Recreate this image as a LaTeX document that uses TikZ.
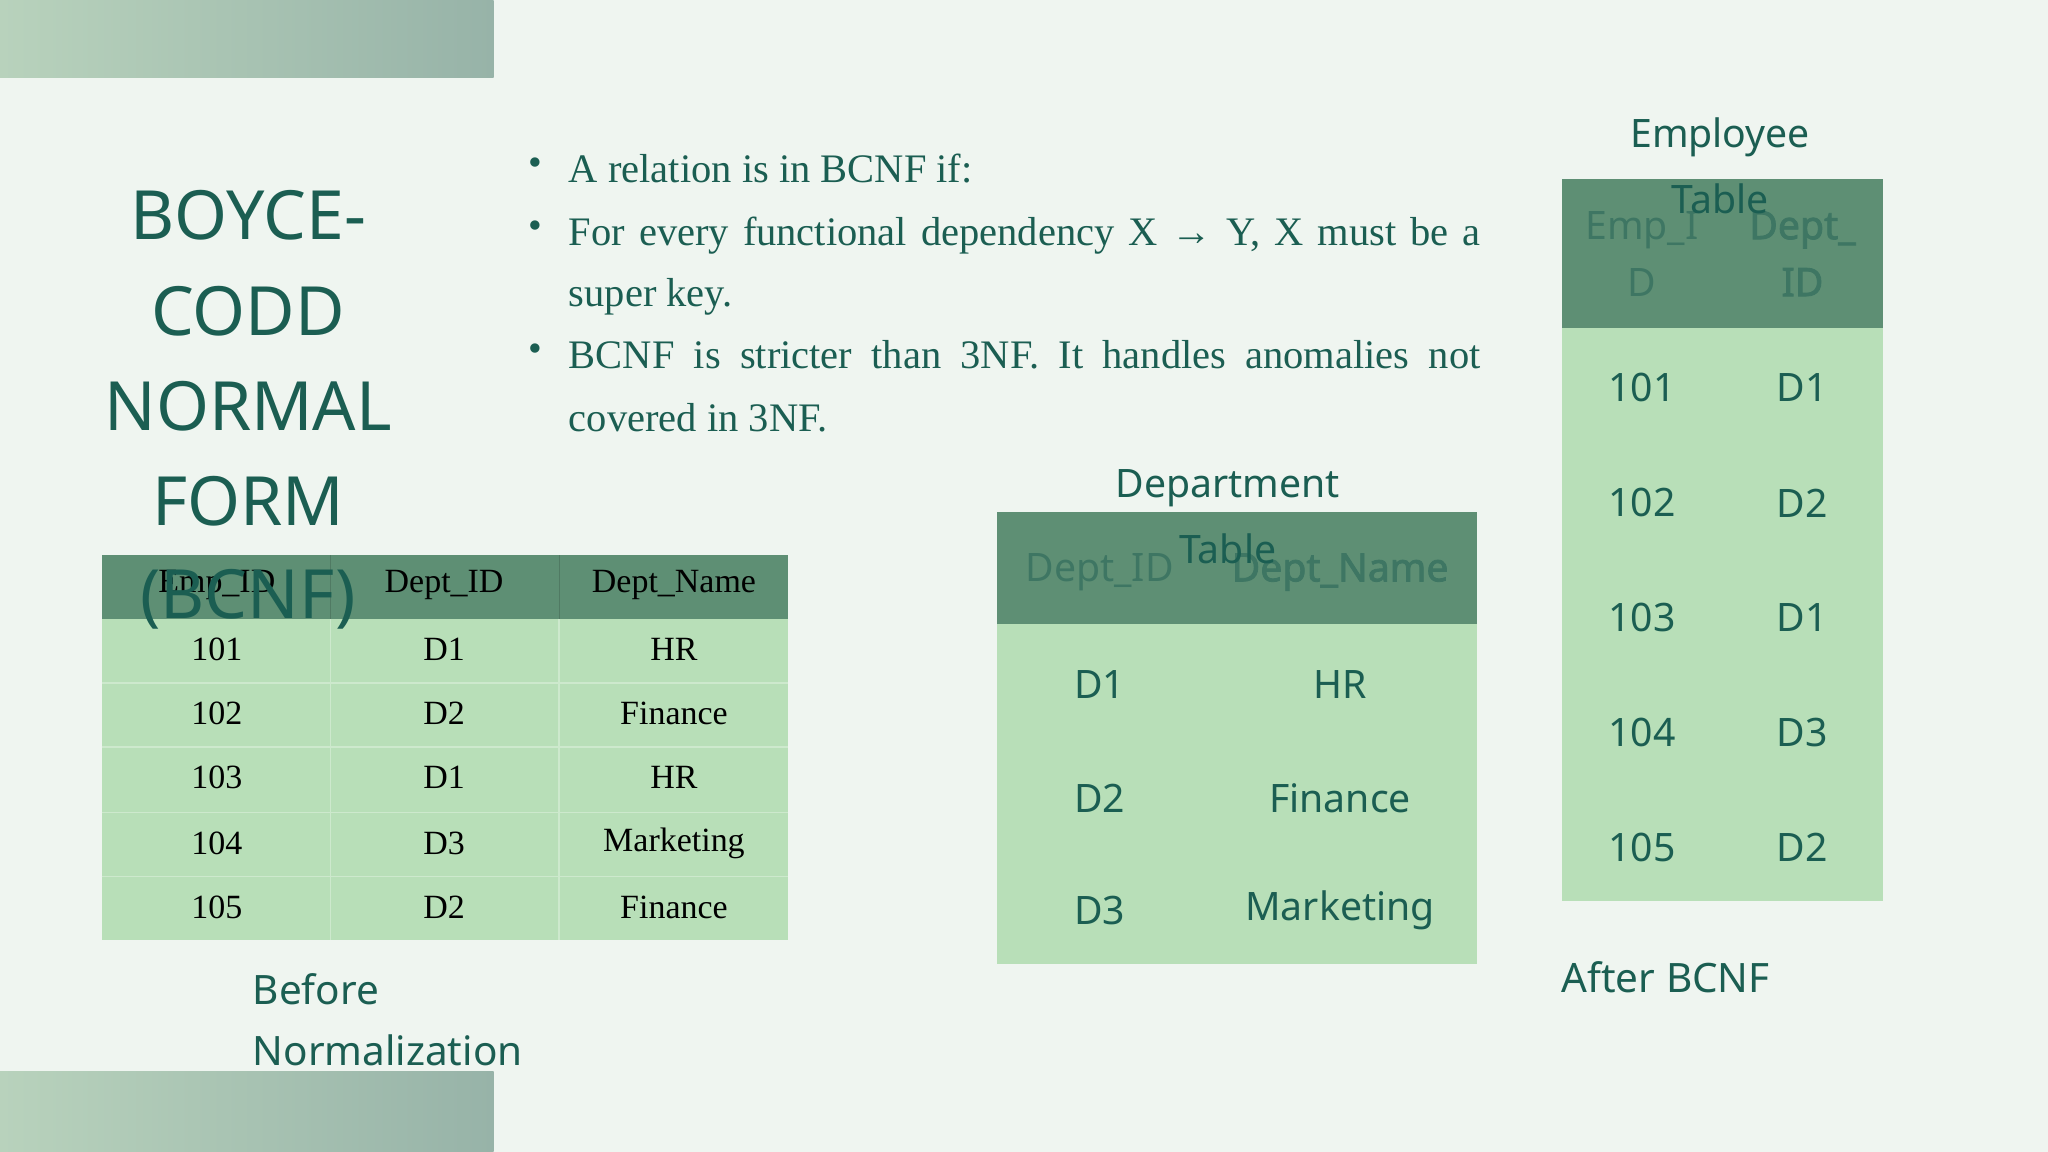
\documentclass[tikz,border=0pt]{standalone}
\usepackage{fontspec}
\setmainfont{Liberation Serif}
\newfontfamily\nsans{Noto Sans}
\newfontfamily\nsansb{Noto Sans}[FakeBold=2]
\definecolor{bg}{HTML}{EFF5F0}
\definecolor{teal}{HTML}{1B5E52}
\definecolor{hdr}{HTML}{5E8F74}
\definecolor{body}{HTML}{B8DFB8}
\definecolor{hdrtxt}{HTML}{3E7663}
\definecolor{gA}{HTML}{B8D2BC}
\definecolor{gB}{HTML}{97B3A8}
\begin{document}
\begin{tikzpicture}[x=1pt,y=-1pt,
  ttl/.style={font=\nsans\fontsize{52}{60}\selectfont,text=teal,anchor=center},
  bul/.style={font=\fontsize{31}{34}\selectfont,text=teal,anchor=base west},
  lt/.style={font=\fontsize{26}{30}\selectfont,text=black,anchor=center},
  st/.style={font=\nsans\fontsize{30}{32}\selectfont,text=teal,anchor=center},
  sb/.style={st,text=hdrtxt,font=\nsansb\fontsize{30}{32}\selectfont},
  sl/.style={font=\nsans\fontsize{31}{32}\selectfont,text=teal,anchor=west}]
\fill[bg] (0,0) rectangle (1568,882);
\useasboundingbox (0,0) rectangle (1568,882);
\shade[left color=gA,right color=gB] (0,0) rectangle (378,59);
\shade[left color=gA,right color=gB] (0,820) rectangle (378,882);
% left table
\fill[body] (78,425) rectangle (603,720);
\fill[hdr] (78,425) rectangle (603,474);
\foreach \y in {523,572,622,671} \draw[white!30!body,line width=1] (78,\y) -- (603,\y);
\foreach \x in {253,428} \draw[white!30!body,line width=1] (\x,474) -- (\x,720);
\foreach \x in {253,428} \draw[hdr!85!black,line width=0.8] (\x,425) -- (\x,474);
\node[lt] (h1) at (166,448) {Emp\_ID};
\node[lt] (h2) at (340,448) {Dept\_ID};
\node[lt] (h3) at (516,448) {Dept\_Name};
\foreach \a/\b/\c/\y in {101/D1/HR/497,102/D2/Finance/546,103/D1/HR/595,104/D3/Marketing/646,105/D2/Finance/695}{
  \node[lt] at (166,\y) {\a}; \node[lt] at (340,\y) {\b}; \node[lt] at (516,\y) {\c};}
% title
\node[ttl] (t1) at (190,165) {BOYCE-};
\node[ttl] (t2) at (190,238) {CODD};
\node[ttl] (t3) at (190,311) {NORMAL};
\node[ttl] (t4) at (190,384) {FORM};
\node[ttl] (t5) at (190,459) {(BCNF)};
% bullets
\foreach \y in {140,188,282} \node[font=\fontsize{30}{30}\selectfont,text=teal] at (410,\y-12) {\textbullet};
\node[bul] (b1) at (432,140) {A relation is in BCNF if:};
\node[bul] (b2) at (432,188) {\makebox[698pt][s]{For every functional dependency X \textrightarrow{} Y, X must be a}};
\node[bul] (b3) at (432,235) {super key.};
\node[bul] (b4) at (432,282) {\makebox[698pt][s]{BCNF is stricter than 3NF. It handles anomalies not}};
\node[bul] (b5) at (432,330) {covered in 3NF.};
% department
\fill[body] (763,392) rectangle (1131,738);
\fill[hdr] (763,392) rectangle (1131,478);
\node[st] (dt1) at (940,374) {Department};
\node[st,text=hdrtxt] (d1) at (842,438) {Dept\_ID};
\node[sb] (d2) at (1026,438) {Dept\_Name};
\node[st] (dt2) at (940,420) {Table};
\foreach \a/\b/\y in {D1/HR/524,D2/Finance/611,D3/Marketing/697}{
  \node[st] at (842,\y) {\a}; \node[st] at (1026,\y) {\b};}
% employee
\fill[body] (1196,137) rectangle (1442,690);
\fill[hdr] (1196,137) rectangle (1442,251);
\node[st] (et1) at (1317,105) {Employee};
\node[st,text=hdrtxt] at (1257,176) {Emp\_I};
\node[st,text=hdrtxt] at (1257,216) {D};
\node[sb] at (1380,176) {Dept\_};
\node[sb] at (1380,216) {ID};
\node[st] (et2) at (1317,152) {Table};
\foreach \a/\b/\y in {101/D1/297,102/D2/385,103/D1/473,104/D3/561,105/D2/649}{
  \node[st] at (1257,\y) {\a}; \node[st] at (1380,\y) {\b};}
% captions
\node[sl] (c1) at (190,757) {Before};
\node[sl] (c2) at (190,804) {Normalization};
\node[sl] (c3) at (1192,748) {After BCNF};
\end{tikzpicture}
\end{document}
